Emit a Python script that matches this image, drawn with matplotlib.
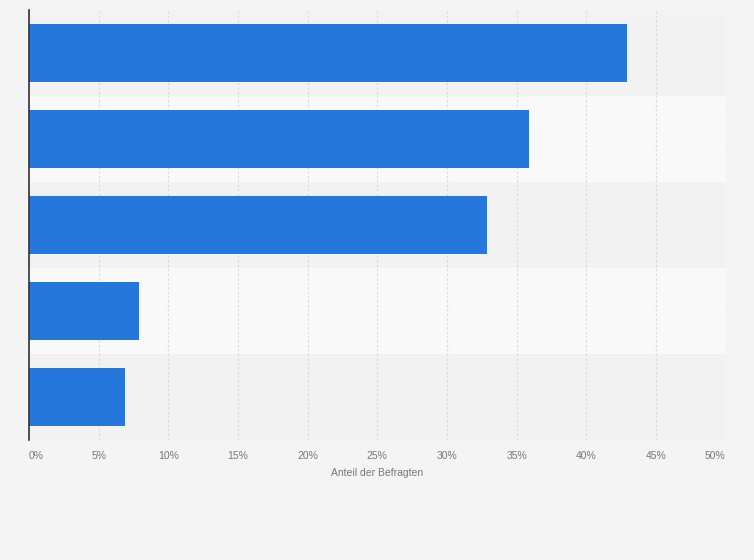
import matplotlib
matplotlib.use("Agg")
import matplotlib.pyplot as plt

plt.rcParams["font.family"] = ["Liberation Sans", "DejaVu Sans"]

categories = ["A", "B", "C", "D", "E"]
values = [42.9, 35.9, 32.9, 7.9, 6.9]
tick_values = [0, 5, 10, 15, 20, 25, 30, 35, 40, 45, 50]
tick_labels = [f"{v}%" for v in tick_values]
xlabel = "Anteil der Befragten"

W, H = 754, 560
fig = plt.figure(figsize=(W/100, H/100), dpi=100, facecolor="#f4f4f4")
ax = fig.add_axes([29/W, 1-440/H, (725.5-29)/W, (440-10)/H])
ax.set_facecolor("#f4f4f4")

n = len(categories)
ypos = list(range(n))
for i in ypos:
    ax.axhspan(i-0.5, i+0.5, color="#f2f2f2" if i % 2 == 0 else "#f9f9f9", zorder=0, lw=0)

ax.barh(ypos, values, height=0.67, color="#2677db", zorder=3)
ax.set_ylim(n-0.5, -0.5)
ax.set_xlim(0, 50)
ax.set_yticks([])
ax.set_xticks(tick_values)
ax.set_xticklabels(tick_labels, fontsize=7.5, color="#777777")
lbls = ax.get_xticklabels()
lbls[0].set_ha("left")
lbls[-1].set_ha("right")
ax.tick_params(axis="x", length=0, pad=8)
ax.grid(axis="x", color="#d8d8d8", linestyle=(0, (2, 2)), linewidth=0.8, zorder=1)
for s in ["top", "right", "bottom"]:
    ax.spines[s].set_visible(False)
ax.spines["left"].set_color("#333333")
ax.spines["left"].set_linewidth(1.2)
ax.spines["left"].set_zorder(4)
ax.set_xlabel(xlabel, fontsize=7.5, color="#777777", labelpad=5)

fig.savefig("out.png", dpi=100, facecolor=fig.get_facecolor())
